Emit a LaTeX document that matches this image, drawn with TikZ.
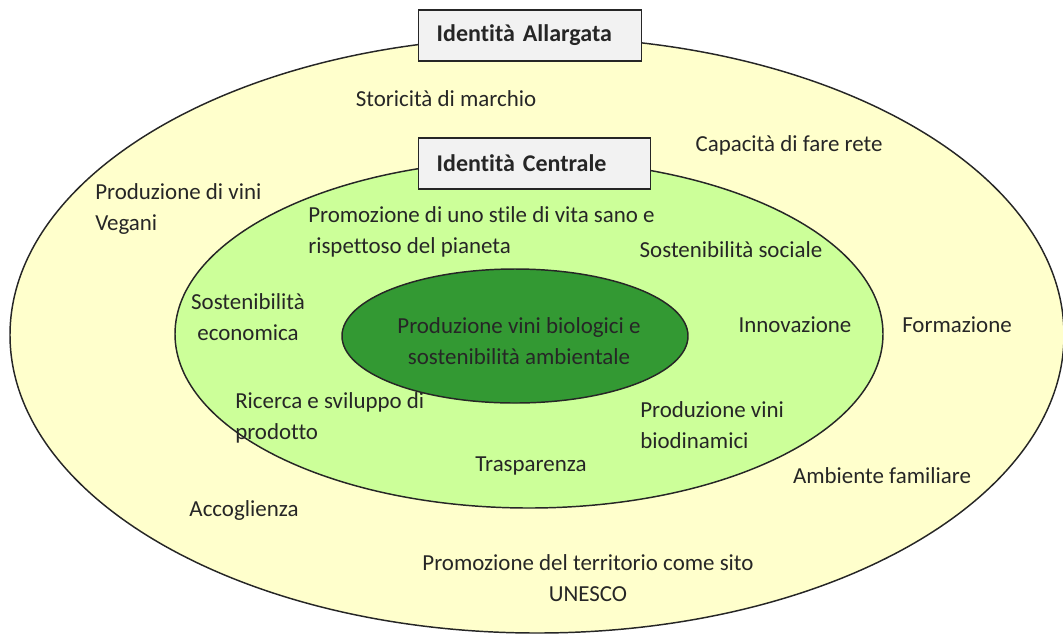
\documentclass[tikz,border=0pt]{standalone}
\usepackage{fontspec}
\setmainfont{Carlito}[Ligatures=NoCommon]
\usetikzlibrary{positioning}
\definecolor{yellowring}{HTML}{FFFFCC}
\definecolor{greenring}{HTML}{CCFF99}
\definecolor{greencore}{HTML}{339933}
\definecolor{boxgray}{HTML}{F2F2F2}

\begin{document}
\begin{tikzpicture}[x=0.75pt,y=-0.75pt]
		\tikzset{ring/.style={draw=black!85, line width=1.1pt},
			label/.style={inner sep=0pt, font=\fontsize{17.2}{23}\selectfont, text=black!85},
			title/.style={draw=black!85, line width=1.1pt, fill=boxgray, inner xsep=13.5pt, minimum height=38pt, align=left, font=\fontsize{18}{20}\selectfont\bfseries, text=black!85}};
		\useasboundingbox (0,0) rectangle (1063,637);
		\filldraw[ring, fill=yellowring] (537,335) ellipse [x radius=527, y radius=298];
		\filldraw[ring, fill=greenring] (529,334) ellipse [x radius=354, y radius=174];
		\filldraw[ring, fill=greencore] (515,336) ellipse [x radius=173, y radius=67];
		% titoli
		\node[title, anchor=west, text width=140pt] (allargata) at (418,35.5) {Identità Allargata};
		\node[title, anchor=west, text width=147pt] (centrale) at (418,163.5) {Identità Centrale};
		% identita allargata
		\node[label] (storicita) at (446,99) {Storicità di marchio};
		\node[label] (rete) at (789,145) {Capacità di fare rete};
		\node[label, anchor=west, align=left] (vegani) at (95,209) {Produzione di vini\\Vegani};
		\node[label] (formazione) at (957,325) {Formazione};
		\node[label] (familiare) at (882,476) {Ambiente familiare};
		\node[label] (accoglienza) at (244,510) {Accoglienza};
		\node[label, align=center] (unesco) at (588,578) {Promozione del territorio come sito\\UNESCO};
		% identita centrale
		\node[label, anchor=west, align=left] (stile) at (308,232) {Promozione di uno stile di vita sano e\\rispettoso del pianeta};
		\node[label] (sociale) at (731,250) {Sostenibilità sociale};
		\node[label, align=center] (economica) at (248,317) {Sostenibilità\\economica};
		\node[label] (innovazione) at (795,325) {Innovazione};
		\node[label, anchor=west, align=left] (ricerca) at (235,418) {Ricerca e sviluppo di\\prodotto};
		\node[label, anchor=west, align=left] (biodinamici) at (640,425) {Produzione vini\\biodinamici};
		\node[label] (trasparenza) at (531,466) {Trasparenza};
		% nucleo
		\node[label, align=center] (nucleo) at (519,341) {Produzione vini biologici e\\sostenibilità ambientale};
	\end{tikzpicture}
\end{document}
